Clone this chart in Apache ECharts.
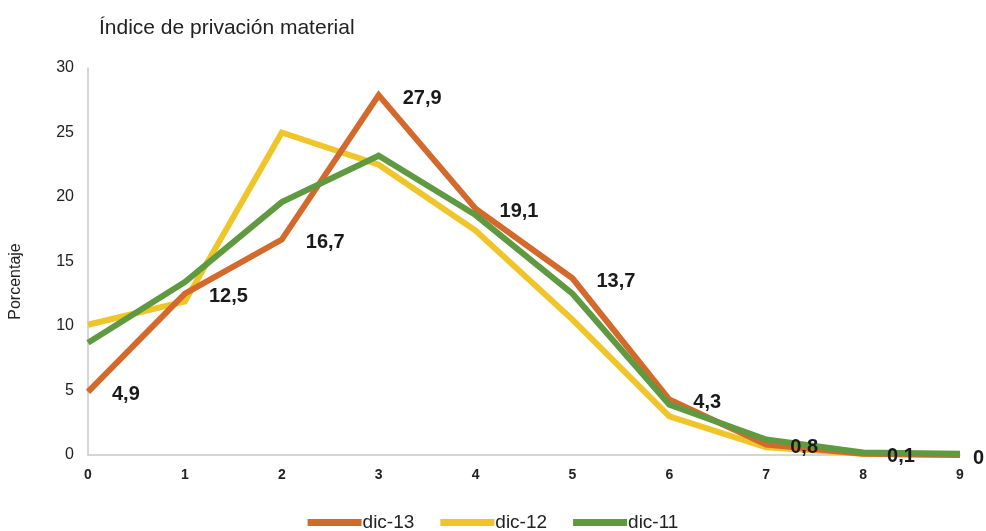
<!DOCTYPE html>
<html>
<head>
<meta charset="utf-8">
<script src="https://cdn.jsdelivr.net/npm/echarts@6/dist/echarts.min.js"></script>
<style>
  html, body { margin: 0; padding: 0; background: #fff; }
  #chart { width: 986px; height: 531px; }
</style>
</head>
<body>
<div id="chart"></div>
<script>
const categories = ['0', '1', '2', '3', '4', '5', '6', '7', '8', '9'];
const dic13 = [4.9, 12.5, 16.7, 27.9, 19.1, 13.7, 4.3, 0.8, 0.1, 0];
const dic12 = [10.1, 11.9, 25.0, 22.5, 17.4, 10.5, 3.0, 0.6, 0.1, 0];
const dic11 = [8.7, 13.4, 19.6, 23.2, 18.6, 12.5, 3.9, 1.2, 0.2, 0.1];
const yTicks = { min: 0, max: 30, interval: 5 };

const font = 'Liberation Sans, Arial, sans-serif';
let myChart = echarts.init(document.getElementById('chart'));

// last label sits closer to the point so it stays inside the canvas
let dic13Data = dic13.map((v, i) => i === dic13.length - 1
    ? { value: v, label: { distance: 13 } }
    : v);

let option = {
    backgroundColor: '#fff',
    textStyle: { fontFamily: font },
    title: {
        text: 'Índice de privación material',
        left: 94,
        top: 13,
        textStyle: { fontFamily: font, fontSize: 21, fontWeight: 'normal', color: '#222' }
    },
    grid: { left: 88, right: 26, top: 68, bottom: 76 },
    legend: {
        top: 508,
        left: 'center',
        data: ['dic-13', 'dic-12', 'dic-11'],
        icon: 'rect',
        itemWidth: 54,
        itemHeight: 7,
        itemGap: 26,
        textStyle: { fontFamily: font, fontSize: 19, color: '#222', fontWeight: 500, padding: [0, 0, 0, -4] }
    },
    xAxis: {
        type: 'category',
        data: categories,
        boundaryGap: false,
        axisLine: { lineStyle: { color: '#c8c8c8', width: 1.5 } },
        axisTick: { show: false },
        axisLabel: { color: '#222', fontSize: 14, fontWeight: 'bold', margin: 13, fontFamily: font }
    },
    yAxis: {
        type: 'value',
        min: yTicks.min,
        max: yTicks.max,
        interval: yTicks.interval,
        name: 'Porcentaje',
        nameLocation: 'middle',
        nameGap: 64,
        nameTextStyle: { color: '#222', fontSize: 16, fontFamily: font, padding: [0, 40, 0, 0] },
        splitLine: { show: false },
        axisLine: { show: true, lineStyle: { color: '#c8c8c8', width: 1.5 } },
        axisTick: { show: false },
        axisLabel: { color: '#222', fontSize: 16, margin: 14, fontFamily: font }
    },
    series: [
        {
            name: 'dic-12',
            type: 'line',
            data: dic12,
            symbol: 'none',
            color: '#F0C52A',
            lineStyle: { width: 6, color: '#F0C52A', join: 'miter' }
        },
        {
            name: 'dic-13',
            type: 'line',
            data: dic13Data,
            symbol: 'circle',
            symbolSize: 0,
            showAllSymbol: true,
            color: '#D4692C',
            lineStyle: { width: 6, color: '#D4692C', join: 'miter' },
            label: {
                show: true,
                position: 'right',
                distance: 24,
                offset: [0, 3],
                color: '#1a1a1a',
                fontSize: 20,
                fontWeight: 'bold',
                fontFamily: font,
                formatter: p => String(p.value).replace('.', ',')
            }
        },
        {
            name: 'dic-11',
            type: 'line',
            data: dic11,
            symbol: 'none',
            color: '#5F9A40',
            lineStyle: { width: 6, color: '#5F9A40', join: 'miter' }
        }
    ]
};

myChart.setOption(option);
</script>
</body>
</html>
